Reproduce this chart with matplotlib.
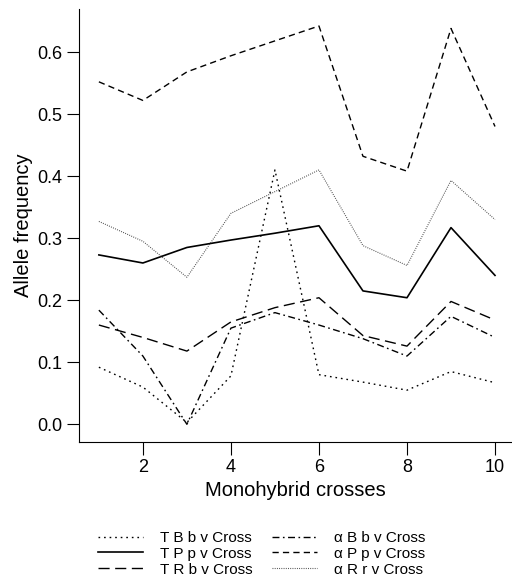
import matplotlib
matplotlib.use('Agg')
import matplotlib.pyplot as plt

plt.rcParams['font.family'] = ['Liberation Sans', 'DejaVu Sans']

crosses = [1, 2, 3, 4, 5, 6, 7, 8, 9, 10]
tBbv = [0.092, 0.060, 0.003, 0.078, 0.410, 0.080, 0.068, 0.055, 0.085, 0.067]
tPpv = [0.273, 0.260, 0.285, 0.297, 0.308, 0.320, 0.215, 0.204, 0.317, 0.240]
tRbv = [0.160, 0.140, 0.118, 0.165, 0.188, 0.204, 0.143, 0.126, 0.198, 0.168]
aBbv = [0.184, 0.110, 0.000, 0.155, 0.180, 0.160, 0.138, 0.110, 0.174, 0.140]
aPpv = [0.552, 0.522, 0.568, 0.594, 0.618, 0.642, 0.432, 0.408, 0.638, 0.480]
aRrv = [0.327, 0.295, 0.237, 0.340, 0.375, 0.410, 0.288, 0.256, 0.393, 0.330]

fig = plt.figure(figsize=(5.12, 5.77), dpi=100)
ax = fig.add_axes([0.154, 0.234, 0.846, 0.750])

ax.plot(crosses, tBbv, color='black', lw=1.0, linestyle=(0, (1.2, 2.8)), label='T B b v Cross')
ax.plot(crosses, tPpv, color='black', lw=1.2, linestyle='-', label='T P p v Cross')
ax.plot(crosses, tRbv, color='black', lw=1.0, linestyle=(0, (8, 4)), label='T R b v Cross')
ax.plot(crosses, aBbv, color='black', lw=1.0, linestyle=(0, (5, 2.5, 1.2, 2.5)), label='α B b v Cross')
ax.plot(crosses, aPpv, color='black', lw=1.0, linestyle=(0, (4.5, 3)), label='α P p v Cross')
ax.plot(crosses, aRrv, color='#444444', lw=0.8, linestyle=(0, (0.8, 1.2)), label='α R r v Cross')

ax.set_xlim(0.545, 10.386)
ax.set_ylim(-0.0285, 0.669)
ax.set_xticks([2, 4, 6, 8, 10])
ax.set_yticks([0.0, 0.1, 0.2, 0.3, 0.4, 0.5, 0.6])
ax.set_yticklabels(['0.0', '0.1', '0.2', '0.3', '0.4', '0.5', '0.6'])
ax.spines['top'].set_visible(False)
ax.spines['right'].set_visible(False)
ax.tick_params(direction='out', length=9, pad=3, labelsize=13)
ax.set_xlabel('Monohybrid crosses', fontsize=14.5, labelpad=4)
ax.set_ylabel('Allele frequency', fontsize=14.5, labelpad=3)

fig.legend(loc='lower center', bbox_to_anchor=(0.511, -0.023), ncol=2, frameon=False,
           fontsize=11, handlelength=2.95, labelspacing=0.12, columnspacing=1.25,
           handletextpad=1.1)

fig.savefig('out.png', dpi=100)
